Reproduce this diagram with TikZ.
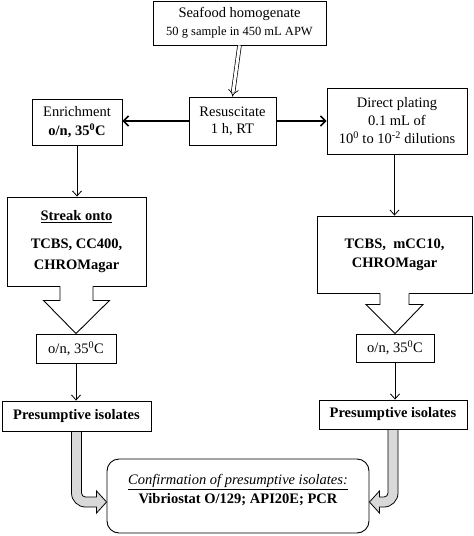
\documentclass[tikz,border=0pt]{standalone}
\usepackage{fontspec}
\setmainfont{Liberation Serif}
\usetikzlibrary{arrows.meta,calc}
\begin{document}
\begin{tikzpicture}[x=1pt,y=-1pt,
  box/.style={draw,line width=0.9pt,fill=white,inner sep=0pt,align=center,
    font=\fontsize{14.5}{18}\selectfont},
  thinarrow/.style={line width=0.8pt,-{Straight Barb[length=5pt,width=9pt]}},
  thickarrow/.style={line width=1.6pt,-{Straight Barb[length=5pt,width=10pt]}},
  blockarrow/.style={line width=0.9pt},
  grayarrow/.style={draw,line width=0.8pt,fill=gray!30},
]
\useasboundingbox (0,0) rectangle (474,536);

\node[box,minimum width=173pt,minimum height=44pt] (top) at (239.5,23)
  {Seafood homogenate\\{\fontsize{12.5}{15}\selectfont 50 g sample in 450 mL APW}};
\node[box,minimum width=87pt,minimum height=48pt,font=\fontsize{14.5}{17}\selectfont] (resus) at (232.5,121)
  {Resuscitate\\1 h, RT};
\node[box,minimum width=90pt,minimum height=46pt,font=\fontsize{14.5}{19}\selectfont] (enrich) at (77,122)
  {Enrichment\\\textbf{o/n, 35\textsuperscript{0}C}};
\node[box,minimum width=140pt,minimum height=66pt] (direct) at (397,121)
  {Direct plating\\0.1 mL of\\10\textsuperscript{0} to 10\textsuperscript{-2} dilutions};
\node[box,minimum width=139pt,minimum height=89pt,font=\fontsize{14.5}{21}\selectfont\bfseries] (streak) at (76.5,241.5)
  {\underline{Streak onto}\\[7pt]TCBS, CC400,\\CHROMagar};
\node[box,minimum width=155pt,minimum height=77pt,font=\fontsize{14.5}{19}\selectfont\bfseries] (tcbs) at (394.5,254.5)
  {TCBS,\ \ mCC10,\\CHROMagar};
\node[box,minimum width=80pt,minimum height=29pt] (onL) at (76,348.5) {o/n, 35\textsuperscript{0}C};
\node[box,minimum width=78pt,minimum height=28pt] (onR) at (395,348) {o/n, 35\textsuperscript{0}C};
\node[box,minimum width=149pt,minimum height=30pt,font=\fontsize{14.5}{18}\selectfont\bfseries] (presL) at (76.5,416) {Presumptive isolates};
\node[box,minimum width=148pt,minimum height=29pt,font=\fontsize{14.5}{18}\selectfont\bfseries] (presR) at (393,414.5) {Presumptive isolates};
\node[box,rounded corners=12pt,minimum width=262pt,minimum height=74pt] (conf) at (238,496) {};
\node[align=center,inner sep=0pt,font=\fontsize{14.5}{19}\selectfont] (conftxt) at ($(conf.center)+(0,-6)$)
  {\textit{\underline{Confirmation of presumptive isolates:}}\\\textbf{Vibriostat O/129; API20E; PCR}};

% connectors
\draw[double,double distance=3pt,line width=0.7pt,-{Implies}] (top.south) -- (resus.north);
\draw[thickarrow] (resus.west) -- (resus.west -| enrich.east);
\draw[thickarrow] (resus.east) -- (resus.east -| direct.west);
\draw[thinarrow] (enrich.south) -- (enrich.south |- streak.north);
\draw[thinarrow] (tcbs.north |- direct.south) -- (tcbs.north);
\draw[thinarrow] (onL.south) -- (onL.south |- presL.north);
\draw[thinarrow] (onR.south) -- (onR.south |- presR.north);

% block arrows
\fill[white] ($(streak.south)+(-16.5,-0.6)$) -- ($(streak.south)+(-16.5,14)$) -- ($(streak.south)+(-33,14)$)
  -- (onL.north) -- ($(streak.south)+(33,14)$) -- ($(streak.south)+(16.5,14)$) -- ($(streak.south)+(16.5,-0.6)$) -- cycle;
\draw[blockarrow,line join=miter] ($(streak.south)+(-16.5,0)$) -- ($(streak.south)+(-16.5,14)$) -- ($(streak.south)+(-33,14)$)
  -- (onL.north) -- ($(streak.south)+(33,14)$) -- ($(streak.south)+(16.5,14)$) -- ($(streak.south)+(16.5,0)$);
\fill[white] ($(tcbs.south)+(-14.5,-0.6)$) -- ($(tcbs.south)+(-14.5,11)$) -- ($(tcbs.south)+(-28.5,11)$)
  -- (onR.north) -- ($(tcbs.south)+(28.5,11)$) -- ($(tcbs.south)+(14.5,11)$) -- ($(tcbs.south)+(14.5,-0.6)$) -- cycle;
\draw[blockarrow,line join=miter] ($(tcbs.south)+(-14.5,0)$) -- ($(tcbs.south)+(-14.5,11)$) -- ($(tcbs.south)+(-28.5,11)$)
  -- (onR.north) -- ($(tcbs.south)+(28.5,11)$) -- ($(tcbs.south)+(14.5,11)$) -- ($(tcbs.south)+(14.5,0)$);

% gray curved arrows
\coordinate (gL) at ($(presL.south |- conf.west)+(0,6)$);
\coordinate (hL) at ($(conf.west)+(0,6)$);
\draw[grayarrow] ($(presL.south)+(-5,0)$) -- ($(gL)+(-5,-9)$)
  .. controls ($(gL)+(-5,-1.3)$) and ($(gL)+(1.3,5)$) .. ($(gL)+(9,5)$)
  -- ($(hL)+(-10,5)$) -- ($(hL)+(-10,11)$) -- (hL) -- ($(hL)+(-10,-11)$) -- ($(hL)+(-10,-5)$)
  -- ($(gL)+(9,-5)$) .. controls ($(gL)+(6.8,-5)$) and ($(gL)+(5,-6.8)$) .. ($(gL)+(5,-9)$)
  -- ($(presL.south)+(5,0)$) -- cycle;
\coordinate (gR) at ($(presR.south |- conf.east)+(0,6)$);
\coordinate (hR) at ($(conf.east)+(0,6)$);
\draw[grayarrow] ($(presR.south)+(5,0)$) -- ($(gR)+(5,-9)$)
  .. controls ($(gR)+(5,-1.3)$) and ($(gR)+(-1.3,5)$) .. ($(gR)+(-9,5)$)
  -- ($(hR)+(10,5)$) -- ($(hR)+(10,11)$) -- (hR) -- ($(hR)+(10,-11)$) -- ($(hR)+(10,-5)$)
  -- ($(gR)+(-9,-5)$) .. controls ($(gR)+(-6.8,-5)$) and ($(gR)+(-5,-6.8)$) .. ($(gR)+(-5,-9)$)
  -- ($(presR.south)+(-5,0)$) -- cycle;
\end{tikzpicture}
\end{document}
